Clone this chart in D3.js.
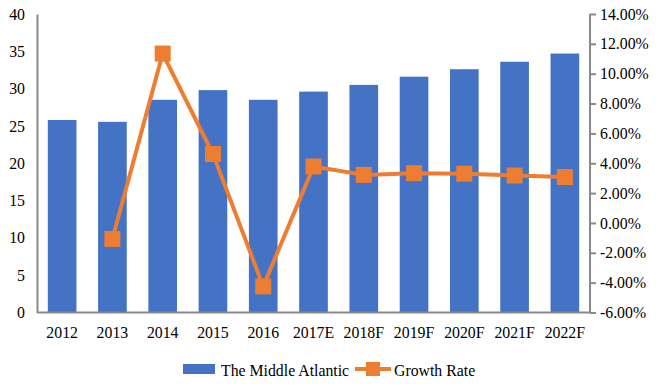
<!DOCTYPE html>
<html>
<head>
<meta charset="utf-8">
<script src="https://cdn.jsdelivr.net/npm/d3@7"></script>
<style>
  html, body { margin: 0; padding: 0; background: #fff; }
  svg text { font-family: 'Liberation Serif', 'Times New Roman', serif !important; }
</style>
</head>
<body>
<svg id="chart" width="661" height="392"></svg>
<script>
const categories = ["2012","2013","2014","2015","2016","2017E","2018F","2019F","2020F","2021F","2022F"];
const marketValues = [25.8, 25.55, 28.5, 29.8, 28.5, 29.6, 30.5, 31.6, 32.6, 33.6, 34.7];
const growthRates = [null, -1.07, 11.35, 4.62, -4.25, 3.78, 3.22, 3.33, 3.30, 3.18, 3.08];
const leftTicks = [0, 5, 10, 15, 20, 25, 30, 35, 40];
const rightTicks = [-6, -4, -2, 0, 2, 4, 6, 8, 10, 12, 14];
const seriesNames = ["The Middle Atlantic", "Growth Rate"];

const svg = d3.select("#chart");
const m = { left: 37, right: 590, top: 14, bottom: 312.5 };
const blue = "#4472C4", orange = "#ED7D31", axisCol = "#898989";
const fontSize = "15.8px";
const serif = "'Liberation Serif', 'Times New Roman', serif";

const x = d3.scaleBand().domain(categories).range([m.left, m.right]).paddingInner(0.43).paddingOuter(0.215);
const y = d3.scaleLinear().domain([0, 40]).range([m.bottom, m.top]);
const y2 = d3.scaleLinear().domain([-6, 14]).range([m.bottom, m.top]);

// bars
svg.append("g").selectAll("rect").data(categories).join("rect")
  .attr("x", d => x(d))
  .attr("width", x.bandwidth())
  .attr("y", (d, i) => y(marketValues[i]))
  .attr("height", (d, i) => y(0) - y(marketValues[i]))
  .attr("fill", blue);

function styleText(g) {
  g.attr("font-family", null);
  g.selectAll("text").style("font-family", serif).style("font-size", fontSize).attr("fill", "#000");
}

// left axis
const gl = svg.append("g").attr("transform", `translate(${m.left},0)`)
  .call(d3.axisLeft(y).tickValues(leftTicks).tickSize(0).tickPadding(12));
gl.select(".domain").attr("stroke", axisCol).attr("stroke-width", 2);
styleText(gl);

// right axis
const gr = svg.append("g").attr("transform", `translate(${m.right},0)`)
  .call(d3.axisRight(y2).tickValues(rightTicks).tickSize(6).tickPadding(4).tickFormat(d => d.toFixed(2) + "%"));
gr.select(".domain").attr("stroke", axisCol).attr("stroke-width", 2).attr("d", `M0,${m.top}V${m.bottom}`);
gr.selectAll(".tick line").attr("stroke", axisCol).attr("stroke-width", 2);
styleText(gr);

// bottom axis
const gb = svg.append("g").attr("transform", `translate(0,${m.bottom})`)
  .call(d3.axisBottom(x).tickSize(0).tickPadding(14));
gb.select(".domain").attr("stroke", axisCol).attr("stroke-width", 2).attr("d", `M${m.left},0H${m.right}`);
styleText(gb);

// growth line
const pts = categories.map((c, i) => ({ c, v: growthRates[i] })).filter(d => d.v !== null);
const line = d3.line().x(d => x(d.c) + x.bandwidth() / 2).y(d => y2(d.v));
svg.append("path").datum(pts).attr("d", line)
  .attr("fill", "none").attr("stroke", orange).attr("stroke-width", 4).attr("stroke-linejoin", "round");
const ms = 16;
svg.append("g").selectAll("rect").data(pts).join("rect")
  .attr("x", d => x(d.c) + x.bandwidth() / 2 - ms / 2)
  .attr("y", d => y2(d.v) - ms / 2)
  .attr("width", ms).attr("height", ms).attr("fill", orange);

// legend
const lg = svg.append("g");
lg.append("rect").attr("x", 183).attr("y", 364).attr("width", 32).attr("height", 10).attr("fill", blue);
lg.append("text").attr("x", 221).attr("y", 370).attr("dy", "0.35em").text(seriesNames[0]);
lg.append("line").attr("x1", 355).attr("x2", 391).attr("y1", 369).attr("y2", 369).attr("stroke", orange).attr("stroke-width", 4);
lg.append("rect").attr("x", 366).attr("y", 362).attr("width", 14).attr("height", 14).attr("fill", orange);
lg.append("text").attr("x", 394).attr("y", 370).attr("dy", "0.35em").text(seriesNames[1]);
lg.selectAll("text").style("font-family", serif).style("font-size", fontSize).attr("fill", "#000");
</script>
</body>
</html>
